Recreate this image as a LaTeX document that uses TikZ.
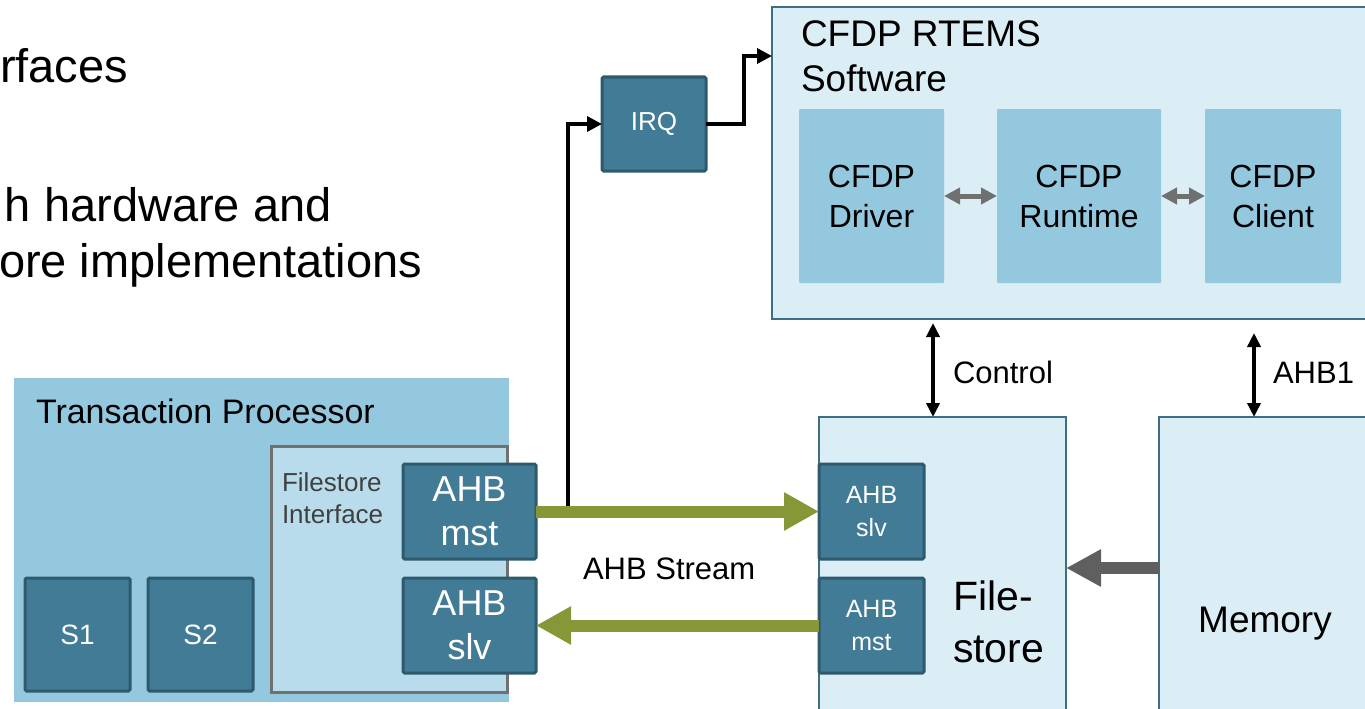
\documentclass[tikz,border=0pt]{standalone}
\usepackage{fontspec}
\setmainfont{Liberation Sans}
\usetikzlibrary{arrows.meta}
\definecolor{tealc}{RGB}{65,123,150}
\definecolor{tealb}{RGB}{46,90,110}
\definecolor{paleb}{RGB}{219,237,245}
\definecolor{paleborder}{RGB}{62,110,133}
\definecolor{midb}{RGB}{147,200,223}
\definecolor{ifb}{RGB}{184,220,235}
\definecolor{ifborder}{RGB}{112,112,112}
\definecolor{olivec}{RGB}{134,151,56}
\definecolor{greyarr}{RGB}{95,95,95}
\definecolor{greysm}{RGB}{112,112,112}
\definecolor{darktext}{RGB}{64,64,64}
\newcommand{\fz}[2]{\fontsize{#1}{#2}\selectfont}
\begin{document}
\begin{tikzpicture}[x=1pt,y=-1pt,
  every node/.style={inner sep=0pt,outer sep=0pt},
  rect/.style={anchor=north west,minimum width=#1},
  darkbox/.style={rect=#1,fill=tealc,draw=tealb,line width=3pt,rounded corners=1.5pt,text=white,align=center},
  palebox/.style={rect=#1,fill=paleb,draw=paleborder,line width=1.6pt},
  midbox/.style={rect=#1,fill=midb,rounded corners=1pt,align=center},
  blk/.style={line width=3.5pt,line cap=butt},
  greenarrow/.style={olivec,line width=12pt,-{Triangle[length=35pt,width=36pt]}},
  smallgrey/.style={greysm,line width=5pt,{Triangle[length=16pt,width=16pt]}-{Triangle[length=16pt,width=16pt]}}
]
\useasboundingbox (0,0) rectangle (1365,709);

% top-left slide text
\node[anchor=base west,font=\fz{47}{56}] (t1) at (0,82) {rfaces};
\node[anchor=base west,font=\fz{47}{56}] (t2) at (5,221) {h hardware and};
\node[anchor=base west,font=\fz{47}{56}] (t3) at (-1,277) {ore implementations};

% CFDP RTEMS Software
\node[palebox=610pt,minimum height=312pt] (sw) at (772,7) {};
\node[anchor=base west,font=\fz{37}{45}] (swt1) at (801,47) {CFDP RTEMS};
\node[anchor=base west,font=\fz{37}{45}] (swt2) at (801,92) {Software};
\node[midbox=145pt,minimum height=174pt,font=\fz{32}{40}] (drv) at (799,109) {CFDP\\Driver};
\node[midbox=164pt,minimum height=174pt,font=\fz{32}{40}] (rt) at (997,109) {CFDP\\Runtime};
\node[midbox=136pt,minimum height=174pt,font=\fz{32}{40}] (cl) at (1205,109) {CFDP\\Client};
\draw[smallgrey] (drv.east) -- (rt.west);
\draw[smallgrey] (rt.east) -- (cl.west);

% IRQ
\node[darkbox=104pt,minimum height=94pt,font=\fz{26}{30}] (irq) at (602,77) {IRQ};

% Transaction Processor
\node[rect=495pt,minimum height=324pt,fill=midb] (tp) at (14,378) {};
\node[anchor=base west,font=\fz{34}{40}] (tpt) at (36,423) {Transaction Processor};
\node[rect=236pt,minimum height=246pt,fill=ifb,draw=ifborder,line width=3pt] (fi) at (271.5,446.5) {};
\node[anchor=base west,text=darktext,font=\fz{26}{32}] (fit1) at (282,491) {Filestore};
\node[anchor=base west,text=darktext,font=\fz{26}{32}] (fit2) at (282,523) {Interface};
\node[darkbox=133pt,minimum height=95pt,font=\fz{36}{44}] (mst) at (403,464) {AHB\\mst};
\node[darkbox=133pt,minimum height=95pt,font=\fz{36}{44}] (slv) at (403,578) {AHB\\slv};
\node[darkbox=105pt,minimum height=113pt,font=\fz{28}{34}] (s1) at (25,578) {S1};
\node[darkbox=105pt,minimum height=113pt,font=\fz{28}{34}] (s2) at (148,578) {S2};

% Filestore and Memory
\node[palebox=247pt,minimum height=310pt] (fs) at (819,417) {};
\node[anchor=base west,font=\fz{41}{52}] (fst1) at (953,610) {File-};
\node[anchor=base west,font=\fz{41}{52}] (fst2) at (953,662) {store};
\node[darkbox=105pt,minimum height=95pt,font=\fz{25}{33}] (fslv) at (819,464) {AHB\\slv};
\node[darkbox=105pt,minimum height=95pt,font=\fz{25}{33}] (fmst) at (819,578) {AHB\\mst};
\node[palebox=230pt,minimum height=310pt] (mem) at (1159,417) {};
\node[anchor=base,font=\fz{37}{44}] (memt) at (1265,632) {Memory};

% Control / AHB1
\coordinate (ctop) at (933,323);
\coordinate (atop) at (1254,333);
\draw[blk,{Triangle[length=14pt,width=13pt]}-{Triangle[length=14pt,width=13pt]}] (ctop) -- (ctop |- fs.north);
\draw[blk,{Triangle[length=14pt,width=13pt]}-{Triangle[length=14pt,width=13pt]}] (atop) -- (atop |- mem.north);
\node[anchor=base west,font=\fz{31}{36}] (ctl) at (953,383) {Control};
\node[anchor=base west,font=\fz{31}{36}] (ahb1) at (1273,383) {AHB1};

% IRQ connectors
\coordinate (ibend) at (568,511.5);
\coordinate (iup) at (744,56);
\coordinate (iin) at (772,56);
\draw[blk,{Triangle[length=8pt,width=9pt]}-{Triangle[length=15pt,width=15pt]}] (mst.east) -- (ibend) |- (irq.west);
\draw[blk,-{Triangle[length=15pt,width=15pt]}] (irq.east) -| (iup) -- (iin);

% AHB stream arrows
\draw[greenarrow] (mst.east) -- (fslv.west);
\draw[greenarrow] (fmst.west) -- (slv.east);
\node[anchor=base west,font=\fz{31}{36}] (stream) at (583,579) {AHB Stream};

% Memory to Filestore
\draw[greyarr,line width=12pt,-{Triangle[length=35pt,width=35pt]}] ([yshift=4pt]mem.west) -- ([yshift=4pt]fs.east);
\end{tikzpicture}
\end{document}
